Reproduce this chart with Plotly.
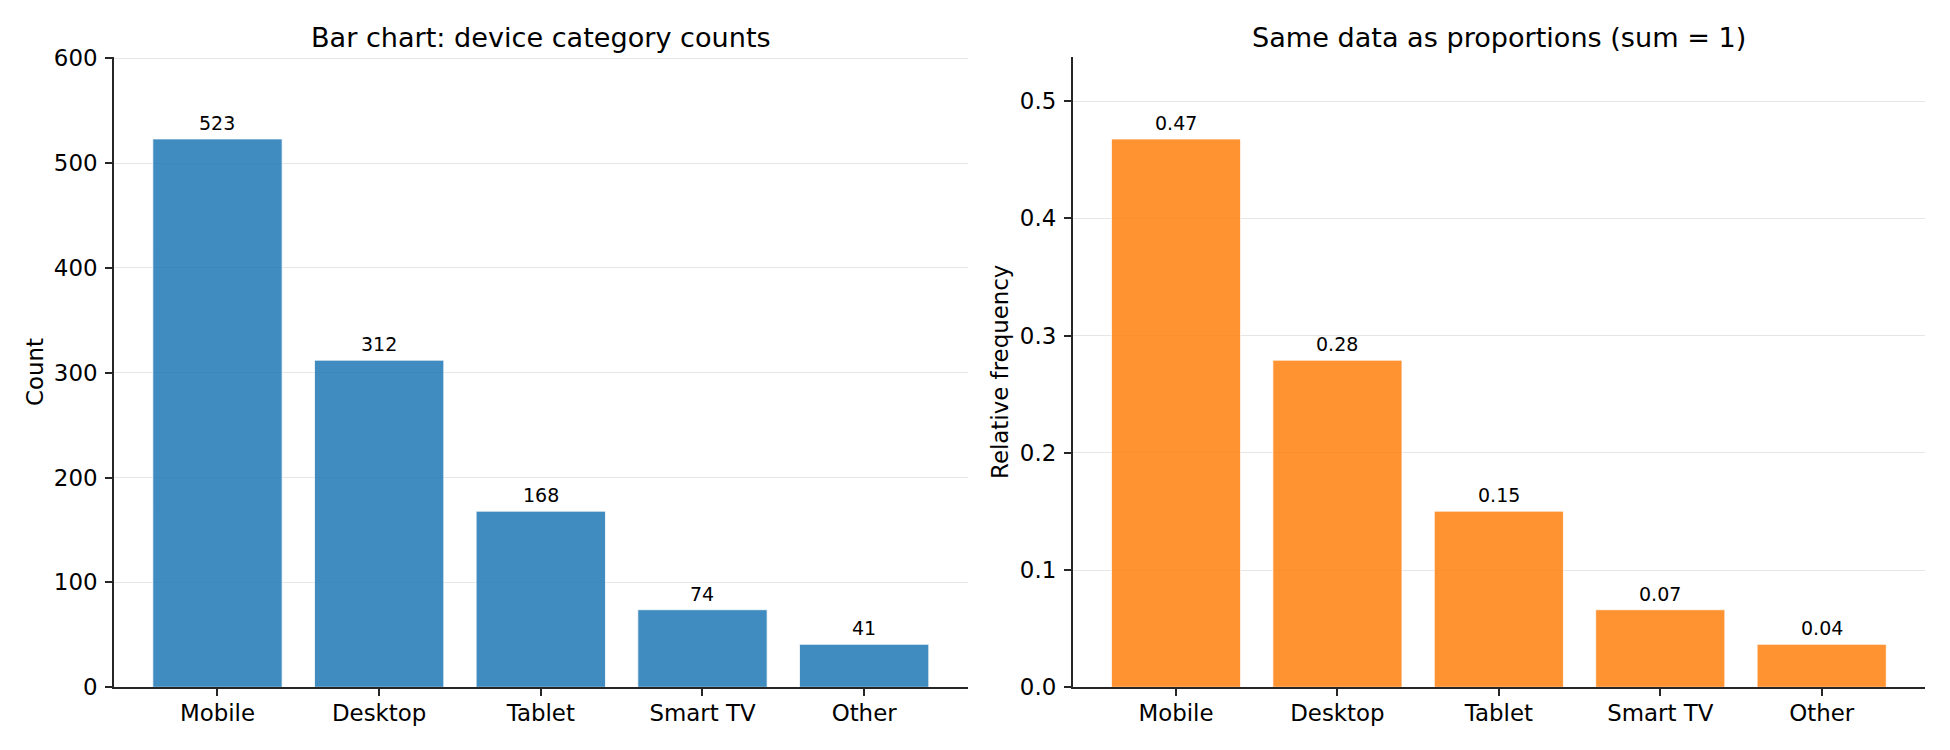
import plotly.graph_objects as go

categories = ["Mobile", "Desktop", "Tablet", "Smart TV", "Other"]
counts = [523, 312, 168, 74, 41]
proportions = [0.4678, 0.2791, 0.1503, 0.0662, 0.0367]
count_labels = ["523", "312", "168", "74", "41"]
prop_labels = ["0.47", "0.28", "0.15", "0.07", "0.04"]
count_ticks = [0, 100, 200, 300, 400, 500, 600]
prop_ticks = [0.0, 0.1, 0.2, 0.3, 0.4, 0.5]

W, H = 1950, 750
FONT = "DejaVu Sans"
AX = "#262626"
TICK_FS = 22.9
LABEL_FS = 22.9
TITLE_FS = 27.1
BAR_FS = 19

def px_x(p):
    return p / W

def px_y(p):
    return 1 - p / H

left_dom = [px_x(114), px_x(967.6)]
right_dom = [px_x(1072.7), px_x(1925)]
y_dom = [px_y(687.3), px_y(56.7)]

fig = go.Figure()
fig.add_trace(go.Bar(x=categories, y=counts, width=0.8, xaxis="x", yaxis="y",
                     marker=dict(color="#1f77b4", opacity=0.85,
                                 line=dict(color="white", width=0.8)),
                     showlegend=False, hoverinfo="skip"))
fig.add_trace(go.Bar(x=categories, y=proportions, width=0.8, xaxis="x2", yaxis="y2",
                     marker=dict(color="#ff7f0e", opacity=0.85,
                                 line=dict(color="white", width=0.8)),
                     showlegend=False, hoverinfo="skip"))

def xaxis(dom, anchor):
    return dict(domain=dom, anchor=anchor, type="category", range=[-0.64, 4.64],
                automargin=False,
                showline=True, linecolor=AX, linewidth=1.7, mirror=False,
                ticks="outside", ticklen=7, tickwidth=1.7, tickcolor=AX,
                showgrid=False, zeroline=False, ticklabelstandoff=-3,
                tickfont=dict(family=FONT, size=TICK_FS, color="black"))

def yaxis(dom, anchor, rng, tickvals, fmt):
    return dict(domain=dom, anchor=anchor, range=rng, tickvals=tickvals,
                tickformat=fmt, automargin=False,
                showline=True, linecolor=AX, linewidth=1.7, mirror=False,
                ticks="outside", ticklen=7, tickwidth=1.7, tickcolor=AX,
                showgrid=True, gridcolor="#e6e6e6", gridwidth=1.3,
                zeroline=False, ticklabelstandoff=3,
                tickfont=dict(family=FONT, size=TICK_FS, color="black"))

annotations = []
for c, v, t in zip(categories, counts, count_labels):
    annotations.append(dict(x=c, y=v, xref="x", yref="y", text=t, showarrow=False,
                            yanchor="bottom", yshift=3,
                            font=dict(family=FONT, size=BAR_FS, color="black")))
for c, v, t in zip(categories, proportions, prop_labels):
    annotations.append(dict(x=c, y=v, xref="x2", yref="y2", text=t, showarrow=False,
                            yanchor="bottom", yshift=3,
                            font=dict(family=FONT, size=BAR_FS, color="black")))

annotations.append(dict(x=(left_dom[0] + left_dom[1]) / 2, y=px_y(37), xref="paper", yref="paper",
                        text="Bar chart: device category counts", showarrow=False,
                        xanchor="center", yanchor="middle",
                        font=dict(family=FONT, size=TITLE_FS, color="black")))
annotations.append(dict(x=(right_dom[0] + right_dom[1]) / 2, y=px_y(37), xref="paper", yref="paper",
                        text="Same data as proportions (sum = 1)", showarrow=False,
                        xanchor="center", yanchor="middle",
                        font=dict(family=FONT, size=TITLE_FS, color="black")))
annotations.append(dict(x=px_x(35), y=(y_dom[0] + y_dom[1]) / 2, xref="paper", yref="paper",
                        text="Count", showarrow=False, textangle=-90,
                        xanchor="center", yanchor="middle",
                        font=dict(family=FONT, size=LABEL_FS, color="black")))
annotations.append(dict(x=px_x(1000), y=(y_dom[0] + y_dom[1]) / 2, xref="paper", yref="paper",
                        text="Relative frequency", showarrow=False, textangle=-90,
                        xanchor="center", yanchor="middle",
                        font=dict(family=FONT, size=LABEL_FS, color="black")))

fig.update_layout(
    width=W, height=H,
    margin=dict(l=0, r=0, t=0, b=0, pad=0, autoexpand=False),
    paper_bgcolor="white", plot_bgcolor="white",
    font=dict(family=FONT, color="black"),
    xaxis=xaxis(left_dom, "y"),
    yaxis=yaxis(y_dom, "x", [0, 601.45], count_ticks, "d"),
    xaxis2=xaxis(right_dom, "y2"),
    yaxis2=yaxis(y_dom, "x2", [0, 0.538], prop_ticks, ".1f"),
    annotations=annotations,
    bargap=0.2,
)

fig.write_html("out.html")
